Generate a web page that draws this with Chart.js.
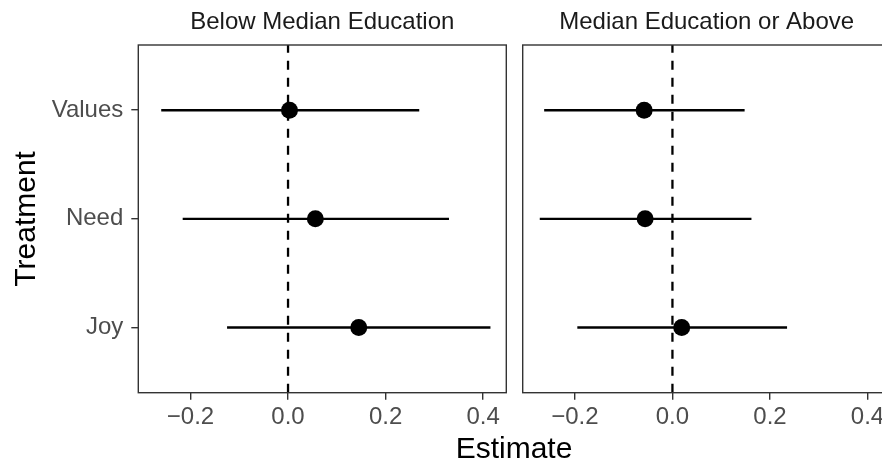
<!DOCTYPE html>
<html><head><meta charset="utf-8">
<script src="https://cdn.jsdelivr.net/npm/chart.js@4/dist/chart.umd.min.js"></script>
<style>
html,body{margin:0;padding:0;background:#fff;overflow:hidden}
#wrap{position:relative;width:882px;height:465px;overflow:hidden;background:#fff}
canvas{position:absolute;top:0}
</style></head><body>
<div id="wrap">
<canvas id="c1" width="882" height="465" style="left:0"></canvas>
<canvas id="c2" width="390" height="465" style="left:512px"></canvas>
</div>
<script>
// ---- data ----
const categories = ['Joy', 'Need', 'Values'];
const panelTitles = ['Below Median Education', 'Median Education or Above'];
const xTickValues = [-0.2, 0.0, 0.2, 0.4];
const xTickLabels = ['\u22120.2', '0.0', '0.2', '0.4'];
const belowEstimate = [0.145, 0.056, 0.003];
const belowLower = [-0.125, -0.216, -0.260];
const belowUpper = [0.415, 0.330, 0.269];
const aboveEstimate = [0.019, -0.056, -0.058];
const aboveLower = [-0.195, -0.272, -0.263];
const aboveUpper = [0.235, 0.162, 0.148];
const referenceLine = [0];
const xTitle = 'Estimate';
const yTitle = 'Treatment';

const X_MIN = -0.307, X_MAX = 0.4475, Y_MIN = 0.4, Y_MAX = 3.6;
const FONT = '"Liberation Sans", Arial, Helvetica, sans-serif';

function makeDatasets(est, lo, hi) {
  const ds = [];
  ds.push({ label: 'estimate', data: est.map((v, i) => ({ x: v, y: i + 1 })),
    showLine: false, pointRadius: 8.5, pointHoverRadius: 8.5,
    pointBackgroundColor: '#000', pointBorderWidth: 0, order: 0 });
  lo.forEach((l, i) => ds.push({ label: 'ci ' + categories[i],
    data: [{ x: l, y: i + 1 }, { x: hi[i], y: i + 1 }],
    showLine: true, borderColor: '#000', borderWidth: 2.4, pointRadius: 0, order: 1 }));
  referenceLine.forEach(r => ds.push({ label: 'ref',
    data: [{ x: r, y: Y_MIN }, { x: r, y: Y_MAX }],
    showLine: true, borderColor: '#000', borderWidth: 2.3, borderDash: [9, 8],
    pointRadius: 0, order: 2 }));
  return ds;
}

const panelPlugin = {
  id: 'panel',
  afterDraw(chart, args, opts) {
    const ca = chart.chartArea, ctx = chart.ctx;
    ctx.save();
    ctx.strokeStyle = '#333333';
    ctx.lineWidth = 1.4;
    ctx.strokeRect(ca.left, ca.top, ca.right - ca.left, ca.bottom - ca.top);
    ctx.fillStyle = '#1a1a1a';
    ctx.font = '24px ' + FONT;
    ctx.textAlign = 'center';
    ctx.textBaseline = 'alphabetic';
    ctx.fillText(opts.title, (ca.left + ca.right) / 2, 29);
    if (opts.axisTitles) {
      ctx.fillStyle = '#000';
      ctx.font = '30px ' + FONT;
      ctx.fillText(xTitle, 514, 458);
      ctx.save();
      ctx.translate(35, (ca.top + ca.bottom) / 2);
      ctx.rotate(-Math.PI / 2);
      ctx.fillText(yTitle, 0, 0);
      ctx.restore();
    }
    ctx.restore();
  }
};

function scalesCfg(showY) {
  return {
    x: {
      type: 'linear', min: X_MIN, max: X_MAX,
      afterBuildTicks: s => { s.ticks = xTickValues.map(v => ({ value: v })); },
      afterFit: s => { s.height = 72.3; },
      ticks: { autoSkip: false, maxRotation: 0, padding: 3, color: '#4d4d4d',
        font: { family: FONT, size: 24 },
        callback: (v, i) => xTickLabels[xTickValues.indexOf(Math.round(v * 10) / 10)] },
      grid: { drawOnChartArea: false, drawTicks: true, tickLength: 7, color: '#333333', lineWidth: 1.4 },
      border: { display: false }
    },
    y: {
      type: 'linear', min: Y_MIN, max: Y_MAX, display: showY,
      afterBuildTicks: s => { s.ticks = categories.map((c, i) => ({ value: i + 1 })); },
      afterFit: s => { s.width = showY ? 138.3 : 0; },
      ticks: { autoSkip: false, padding: 8, color: '#4d4d4d',
        font: { family: FONT, size: 24 },
        callback: v => categories[Math.round(v) - 1] },
      grid: { drawOnChartArea: false, drawTicks: true, tickLength: 7, color: '#333333', lineWidth: 1.4 },
      border: { display: false }
    }
  };
}

function makeChart(id, est, lo, hi, title, showY, padding, axisTitles) {
  return new Chart(document.getElementById(id), {
    type: 'scatter',
    data: { datasets: makeDatasets(est, lo, hi) },
    options: {
      responsive: false, animation: false, devicePixelRatio: 1,
      layout: { padding },
      plugins: { legend: { display: false }, tooltip: { enabled: false },
        panel: { title, axisTitles } },
      scales: scalesCfg(showY)
    },
    plugins: [panelPlugin]
  });
}

makeChart('c1', belowEstimate, belowLower, belowUpper, panelTitles[0], true,
  { left: 0, top: 45, right: 882 - 506.3, bottom: 0 }, true);
makeChart('c2', aboveEstimate, aboveLower, aboveUpper, panelTitles[1], false,
  { left: 10.7, top: 45, right: 390 - (890.7 - 512), bottom: 0 }, false);
</script>
</body></html>
